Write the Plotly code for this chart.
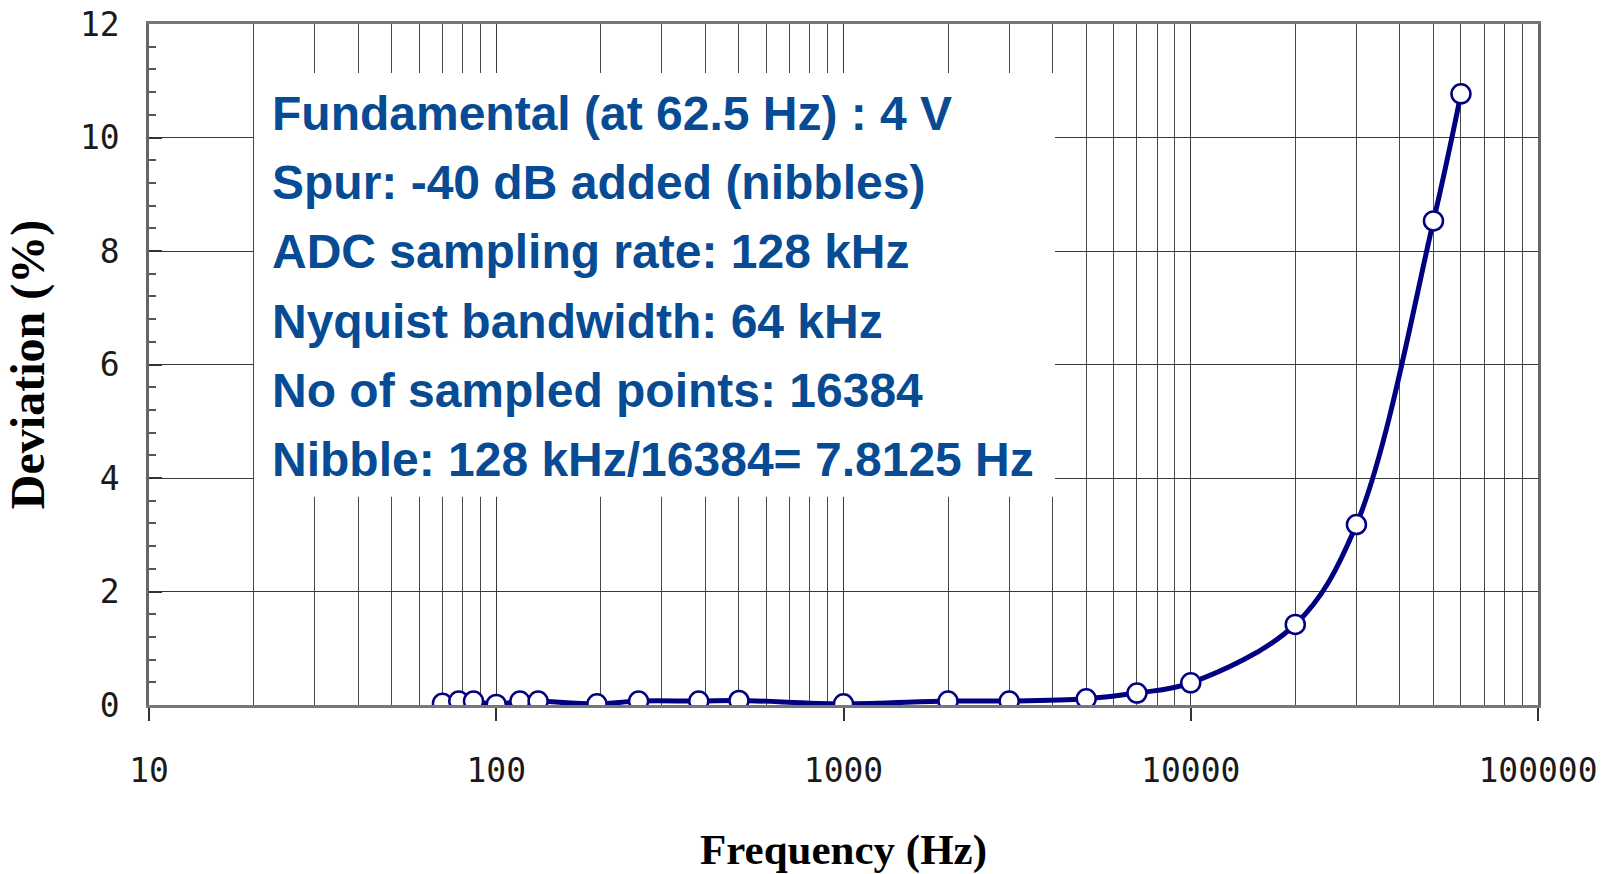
import plotly.graph_objects as go

# Data
freq_hz = [70, 78, 86, 100, 117, 132, 195, 257, 383, 500, 1000,
           2000, 3000, 5000, 7000, 10000, 20000, 30000, 50000, 60000]
deviation_pct = [0.03, 0.07, 0.07, 0.01, 0.07, 0.07, 0.02, 0.07, 0.07, 0.08, 0.02,
                 0.07, 0.07, 0.11, 0.21, 0.39, 1.42, 3.18, 8.53, 10.77]

x_tick_vals = [10, 100, 1000, 10000, 100000]
x_tick_text = ["10", "100", "1000", "10000", "100000"]
y_tick_vals = [0, 2, 4, 6, 8, 10, 12]

info_lines = [
    "Fundamental (at 62.5 Hz) : 4 V",
    "Spur: -40 dB added (nibbles)",
    "ADC sampling rate: 128 kHz",
    "Nyquist bandwidth: 64 kHz",
    "No of sampled points: 16384",
    "Nibble: 128 kHz/16384= 7.8125 Hz",
]

W, H = 1613, 874
L, R, T, B = 149, 1538, 24, 705.5
pw, ph = R - L, B - T

def px_x(x):
    return (x - L) / pw

def px_y(y):
    return (B - y) / ph

fig = go.Figure()
fig.add_trace(go.Scatter(
    x=freq_hz, y=deviation_pct, mode="lines+markers",
    line=dict(color="#000080", width=5, shape="spline", smoothing=1.0),
    marker=dict(size=19, color="white", line=dict(color="#000080", width=2.5)),
    showlegend=False, hoverinfo="x+y",
))

tick_font = dict(family="DejaVu Sans Mono", size=33, color="#1a1a1a")

fig.update_layout(
    width=W, height=H,
    margin=dict(l=L, r=W - R, t=T, b=H - B, pad=0),
    paper_bgcolor="white", plot_bgcolor="white",
    xaxis=dict(
        type="log", range=[1, 5], automargin=False,
        tickvals=x_tick_vals, ticktext=x_tick_text,
        tickfont=tick_font, ticks="outside", ticklen=13, tickwidth=1.5, tickcolor="#333",
        ticklabelstandoff=22,
        showgrid=True, gridcolor="#3a3a3a", gridwidth=1,
        minor=dict(dtick="D1", showgrid=True, gridcolor="#4a4a4a", gridwidth=1, ticks=""),
        showline=True, linecolor="#777", linewidth=2.5, mirror=True,
        zeroline=False,
        title=dict(text="<b>Frequency (Hz)</b>",
                   font=dict(family="Liberation Serif", size=43, color="black"), standoff=62),
    ),
    yaxis=dict(
        range=[0, 12], tickvals=y_tick_vals, automargin=False,
        tickfont=tick_font, ticks="inside", ticklen=13, tickwidth=1.5, tickcolor="#333",
        ticklabelstandoff=20,
        showgrid=True, gridcolor="#3a3a3a", gridwidth=1,
        minor=dict(dtick=0.4, ticks="inside", ticklen=7, tickwidth=1.5, tickcolor="#555", showgrid=False),
        showline=True, linecolor="#666", linewidth=2.5, mirror=True,
        zeroline=False,
        title=dict(text="<b>Deviation (%)</b>",
                   font=dict(family="Liberation Serif", size=48, color="black"), standoff=21),
    ),
)

# White box covering the grid behind the info text
fig.add_shape(type="rect", xref="paper", yref="paper",
              x0=px_x(254), x1=px_x(1055), y0=px_y(497), y1=px_y(73),
              fillcolor="white", line=dict(width=0), layer="above")

line_centers = [112.5, 181.8, 251.1, 320.4, 389.7, 459.0]
for txt, cy in zip(info_lines, line_centers):
    fig.add_annotation(
        xref="paper", yref="paper", x=px_x(270), y=px_y(cy + 1),
        xanchor="left", yanchor="middle", showarrow=False,
        text="<b>" + txt + "</b>",
        font=dict(family="Liberation Sans", size=48, color="#064b93"),
    )

fig.write_html("out.html")
